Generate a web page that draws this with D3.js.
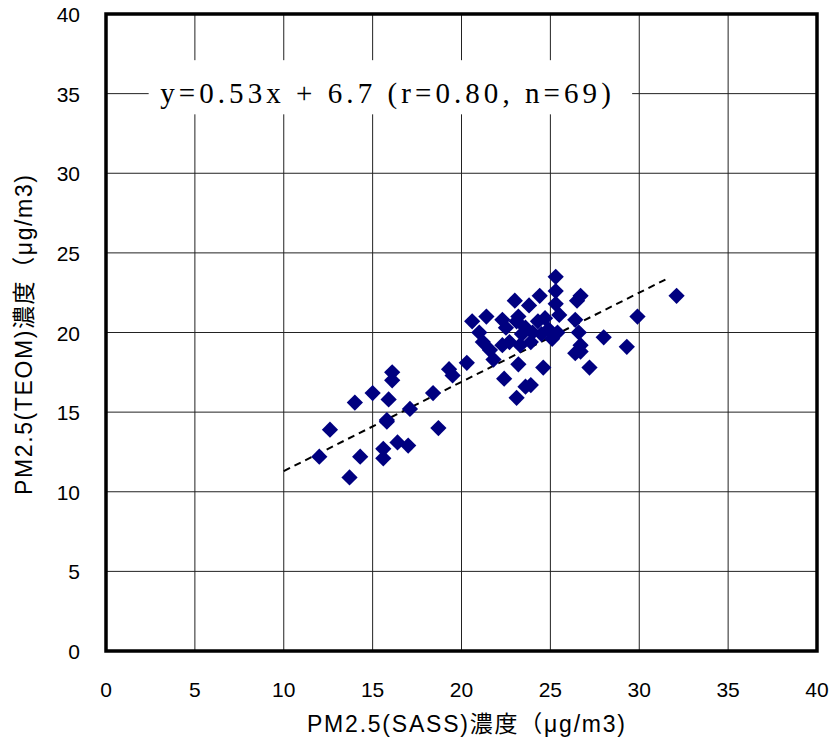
<!DOCTYPE html>
<html>
<head>
<meta charset="utf-8">
<script src="https://cdnjs.cloudflare.com/ajax/libs/d3/7.8.5/d3.min.js"></script>
<style>
    body { margin: 0; background: #fff; }
    svg { display: block; }
</style>
</head>
<body>
<div id="chart"></div>
<script>
/* ---------------------------------- Data ---------------------------------- */
// PM2.5 SASS (x) vs TEOM (y), ug/m3
const sassValues = [
    12.0, 12.6, 13.7, 14.0, 14.3, 15.0, 15.6, 15.6, 15.8, 15.8,
    15.9, 16.1, 16.1, 16.4, 17.0, 17.1, 18.4, 18.7, 19.3, 19.5,
    20.3, 20.6, 21.0, 21.4, 22.3, 22.5, 23.0, 23.2, 23.8, 24.4,
    25.3, 25.3, 25.3, 25.5, 26.5, 26.7, 26.4, 26.6, 26.7, 26.4,
    26.7, 27.2, 28.0, 29.3, 29.9, 32.1, 23.2, 24.6, 22.4, 23.6,
    23.9, 23.1, 21.2, 21.6, 21.8, 22.3, 22.7, 23.4, 23.6, 24.0,
    24.3, 24.7, 24.9, 25.1, 25.4, 23.9, 23.1, 24.5, 23.3
];
const teomValues = [
    12.2, 13.9, 10.9, 15.6, 12.2, 16.2, 12.7, 12.1, 14.5, 14.4,
    15.8, 17.5, 17.0, 13.1, 12.9, 15.2, 16.2, 14.0, 17.7, 17.3,
    18.1, 20.7, 20.0, 21.0, 20.8, 20.3, 22.0, 21.0, 21.7, 22.3,
    23.5, 22.6, 21.8, 21.1, 22.0, 22.3, 20.8, 20.0, 19.2, 18.7,
    18.8, 17.8, 19.7, 19.1, 21.0, 22.3, 18.0, 17.8, 17.1, 16.6,
    16.7, 15.9, 19.4, 18.9, 18.3, 19.2, 19.4, 19.9, 20.3, 20.0,
    20.7, 20.9, 20.2, 19.6, 20.0, 19.4, 20.7, 19.9, 19.2
];
const xTicks = [0, 5, 10, 15, 20, 25, 30, 35, 40];
const yTicks = [0, 5, 10, 15, 20, 25, 30, 35, 40];
// dashed fit line as drawn
const fitRange = [10, 31.6];
const fitSlope = 0.56;
const fitIntercept = 5.7;
const fitLabel = 'y=0.53x + 6.7 (r=0.80, n=69)';
const xTitle = 'PM2.5(SASS)濃度（μg/m3)';
const yTitle = 'PM2.5(TEOM)濃度（μg/m3)';

/* --------------------------------- Layout --------------------------------- */
const width = 832, height = 749;
const margin = { top: 14, right: 15, bottom: 98, left: 106 };
const plotW = width - margin.left - margin.right;
const plotH = height - margin.top - margin.bottom;
const sansFont = '"Liberation Sans", Arial, "Noto Sans CJK JP", sans-serif';

const svg = d3.select('#chart')
    .append('svg')
    .attr('width', width)
    .attr('height', height);

const g = svg.append('g')
    .attr('transform', `translate(${margin.left},${margin.top})`);

const x = d3.scaleLinear().domain([0, 40]).range([0, plotW]);
const y = d3.scaleLinear().domain([0, 40]).range([plotH, 0]);

/* ---------------------------------- Grid ---------------------------------- */
g.append('g')
    .selectAll('line')
    .data(xTicks)
    .enter()
    .append('line')
    .attr('x1', d => x(d)).attr('x2', d => x(d))
    .attr('y1', 0).attr('y2', plotH)
    .attr('stroke', '#222')
    .attr('stroke-width', 1);

g.append('g')
    .selectAll('line')
    .data(yTicks)
    .enter()
    .append('line')
    .attr('x1', 0).attr('x2', plotW)
    .attr('y1', d => y(d)).attr('y2', d => y(d))
    .attr('stroke', '#222')
    .attr('stroke-width', 1);

/* --------------------------- Equation label box --------------------------- */
const labelBox = g.append('g');
labelBox.append('rect')
    .attr('x', x(2.4))
    .attr('y', y(37.1))
    .attr('width', x(29.6) - x(2.4))
    .attr('height', y(33.7) - y(37.1))
    .attr('fill', '#fff');
labelBox.append('text')
    .attr('x', x(3.05))
    .attr('y', y(34.4))
    .attr('textLength', x(28.4) - x(3.05))
    .attr('lengthAdjust', 'spacing')
    .style('font-family', '"Liberation Serif", "DejaVu Serif", serif')
    .style('font-size', '29px')
    .attr('fill', '#000')
    .text(fitLabel);

/* -------------------------------- Fit line -------------------------------- */
g.append('line')
    .attr('x1', x(fitRange[0]))
    .attr('y1', y(fitSlope * fitRange[0] + fitIntercept))
    .attr('x2', x(fitRange[1]))
    .attr('y2', y(fitSlope * fitRange[1] + fitIntercept))
    .attr('stroke', '#000')
    .attr('stroke-width', 2)
    .attr('stroke-dasharray', '7,5');

/* --------------------------------- Points --------------------------------- */
const diamond = d3.symbol().type(d3.symbolSquare).size(132);
g.append('g')
    .selectAll('path')
    .data(sassValues.map((v, i) => ({ sass: v, teom: teomValues[i] })))
    .enter()
    .append('path')
    .attr('d', diamond)
    .attr('transform', d => `translate(${x(d.sass)},${y(d.teom)}) rotate(45)`)
    .attr('fill', '#000080');

/* --------------------------------- Border --------------------------------- */
g.append('rect')
    .attr('x', 0).attr('y', 0)
    .attr('width', plotW).attr('height', plotH)
    .attr('fill', 'none')
    .attr('stroke', '#000')
    .attr('stroke-width', 3.5);

/* ------------------------------- Tick labels ------------------------------ */
g.append('g')
    .selectAll('text')
    .data(xTicks)
    .enter()
    .append('text')
    .attr('x', d => x(d))
    .attr('y', plotH + 46)
    .attr('text-anchor', 'middle')
    .style('font-family', sansFont)
    .style('font-size', '21px')
    .text(d => d);

g.append('g')
    .selectAll('text')
    .data(yTicks)
    .enter()
    .append('text')
    .attr('x', -26)
    .attr('y', d => y(d) + 8)
    .attr('text-anchor', 'end')
    .style('font-family', sansFont)
    .style('font-size', '21px')
    .text(d => d);

/* ------------------------------ Axis titles ------------------------------- */
svg.append('text')
    .attr('x', 307)
    .attr('y', 732)
    .attr('textLength', 318)
    .attr('lengthAdjust', 'spacing')
    .style('font-family', sansFont)
    .style('font-size', '23px')
    .text(xTitle);

svg.append('text')
    .attr('transform', 'translate(32,495) rotate(-90)')
    .attr('textLength', 320)
    .attr('lengthAdjust', 'spacing')
    .style('font-family', sansFont)
    .style('font-size', '23px')
    .text(yTitle);
</script>
</body>
</html>
